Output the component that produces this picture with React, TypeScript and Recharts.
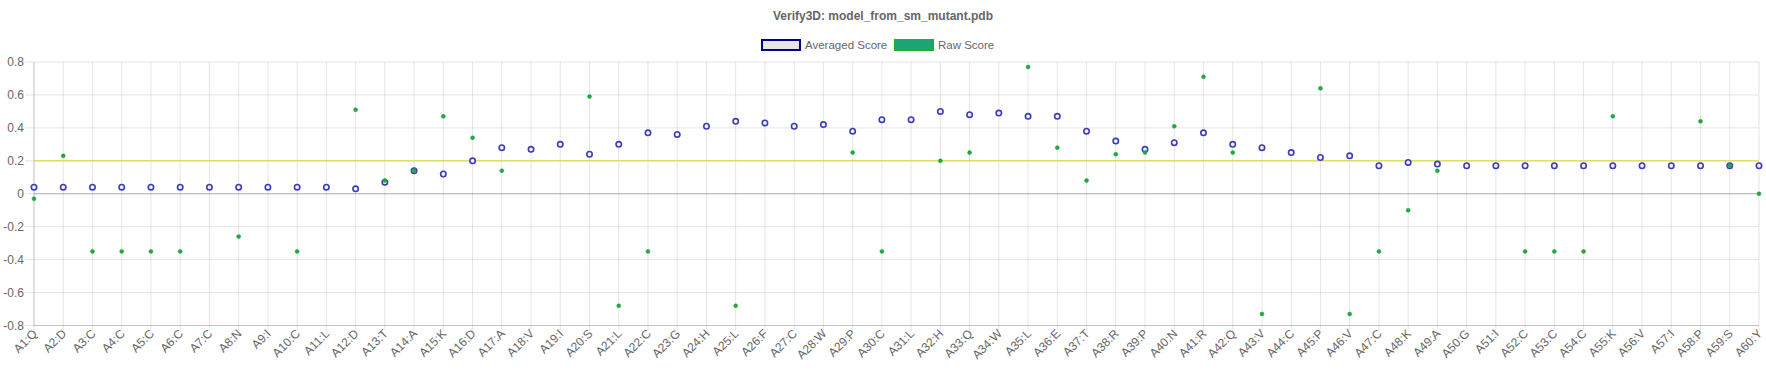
import React from 'react';
import { LineChart, Line, XAxis, YAxis, CartesianGrid, ReferenceLine } from 'recharts';

const categories = [
  'A1:Q', 'A2:D', 'A3:C', 'A4:C', 'A5:C', 'A6:C', 'A7:C', 'A8:N', 'A9:I', 'A10:C',
  'A11:L', 'A12:D', 'A13:T', 'A14:A', 'A15:K', 'A16:D', 'A17:A', 'A18:V', 'A19:I', 'A20:S',
  'A21:L', 'A22:C', 'A23:G', 'A24:H', 'A25:L', 'A26:F', 'A27:C', 'A28:W', 'A29:P', 'A30:C',
  'A31:L', 'A32:H', 'A33:Q', 'A34:W', 'A35:L', 'A36:E', 'A37:T', 'A38:R', 'A39:P', 'A40:N',
  'A41:R', 'A42:Q', 'A43:V', 'A44:C', 'A45:P', 'A46:V', 'A47:C', 'A48:K', 'A49:A', 'A50:G',
  'A51:I', 'A52:C', 'A53:C', 'A54:C', 'A55:K', 'A56:V', 'A57:I', 'A58:P', 'A59:S', 'A60:Y',
];

const averagedScores = [
  0.04, 0.04, 0.04, 0.04, 0.04, 0.04, 0.04, 0.04, 0.04, 0.04,
  0.04, 0.03, 0.07, 0.14, 0.12, 0.20, 0.28, 0.27, 0.30, 0.24,
  0.30, 0.37, 0.36, 0.41, 0.44, 0.43, 0.41, 0.42, 0.38, 0.45,
  0.45, 0.50, 0.48, 0.49, 0.47, 0.47, 0.38, 0.32, 0.27, 0.31,
  0.37, 0.30, 0.28, 0.25, 0.22, 0.23, 0.17, 0.19, 0.18, 0.17,
  0.17, 0.17, 0.17, 0.17, 0.17, 0.17, 0.17, 0.17, 0.17, 0.17,
];

const rawScores: (number | null)[] = [
  -0.03, 0.23, -0.35, -0.35, -0.35, -0.35, null, -0.26, null, -0.35,
  null, 0.51, 0.08, 0.14, 0.47, 0.34, 0.14, null, null, 0.59,
  -0.68, -0.35, null, null, -0.68, null, null, null, 0.25, -0.35,
  null, 0.20, 0.25, null, 0.77, 0.28, 0.08, 0.24, 0.25, 0.41,
  0.71, 0.25, -0.73, null, 0.64, -0.73, -0.35, -0.10, 0.14, null,
  null, -0.35, -0.35, -0.35, 0.47, null, null, 0.44, 0.17, 0.0,
];

const yTicks = [-0.8, -0.6, -0.4, -0.2, 0, 0.2, 0.4, 0.6, 0.8];
const thresholdValue = 0.2;

const titleText = 'Verify3D: model_from_sm_mutant.pdb';
const legendLabels = ['Averaged Score', 'Raw Score'];

const data = categories.map((label, i) => ({
  label,
  averaged: averagedScores[i],
  raw: rawScores[i],
}));

const FONT = '"Liberation Sans", Arial, Helvetica, sans-serif';

const XTick = (props: any) => {
  const { x, y, payload } = props;
  const tx = x + 1;
  const ty = y;
  return (
    <text
      x={tx}
      y={ty}
      transform={`rotate(-45, ${tx}, ${ty})`}
      textAnchor="end"
      dominantBaseline="central"
      fontSize={12}
      fontFamily={FONT}
      fill="#666"
    >
      {payload.value}
    </text>
  );
};

export default function App() {
  return (
    <div
      style={{
        position: 'absolute',
        left: 0,
        top: 0,
        width: 1766,
        height: 375,
        background: '#fff',
        fontFamily: FONT,
      }}
    >
      <div
        style={{
          position: 'absolute',
          left: 0,
          top: 9,
          width: 1766,
          textAlign: 'center',
          fontSize: 12,
          fontWeight: 'bold',
          color: '#666',
          lineHeight: '14px',
        }}
      >
        {titleText}
      </div>
      <div
        style={{
          position: 'absolute',
          left: 761,
          top: 39,
          width: 40,
          height: 12,
          boxSizing: 'border-box',
          border: '2px solid #00008b',
          background: '#e6e6e6',
        }}
      />
      <div style={{ position: 'absolute', left: 805, top: 38, fontSize: 11.5, lineHeight: '14px', color: '#666' }}>
        {legendLabels[0]}
      </div>
      <div
        style={{
          position: 'absolute',
          left: 894,
          top: 39,
          width: 40,
          height: 12,
          boxSizing: 'border-box',
          border: '1.5px solid #22b022',
          background: '#1ea672',
        }}
      />
      <div style={{ position: 'absolute', left: 938, top: 38, fontSize: 11.5, lineHeight: '14px', color: '#666' }}>
        {legendLabels[1]}
      </div>
      <LineChart width={1766} height={375} data={data} margin={{ top: 62, right: 7, left: 0, bottom: 0 }}>
        <CartesianGrid stroke="rgba(0,0,0,0.1)" />
        <XAxis
          dataKey="label"
          interval={0}
          height={49.5}
          tick={<XTick />}
          tickSize={5}
          tickMargin={1}
          tickLine={{ stroke: 'rgba(0,0,0,0.1)' }}
          axisLine={{ stroke: 'rgba(0,0,0,0.15)' }}
        />
        <YAxis
          width={34}
          domain={[-0.8, 0.8]}
          ticks={yTicks}
          interval={0}
          tickSize={9}
          tickMargin={1}
          tickFormatter={(v: number) => String(Number(v.toFixed(1)))}
          tick={{ fontSize: 12, fill: '#666', fontFamily: FONT }}
          tickLine={{ stroke: 'rgba(0,0,0,0.1)' }}
          axisLine={{ stroke: 'rgba(0,0,0,0.15)' }}
        />
        <ReferenceLine y={0} stroke="rgba(0,0,0,0.25)" strokeWidth={1} />
        <ReferenceLine y={thresholdValue} stroke="#dede70" strokeWidth={1.5} />
        <Line
          dataKey="averaged"
          stroke="none"
          isAnimationActive={false}
          activeDot={false}
          dot={{ r: 2.7, stroke: '#3c3cb8', strokeWidth: 1.6, fill: '#f2f2f8' }}
        />
        <Line
          dataKey="raw"
          stroke="none"
          isAnimationActive={false}
          activeDot={false}
          dot={{ r: 2, stroke: '#1fa83c', strokeWidth: 0.5, fill: '#1fa83c' }}
        />
      </LineChart>
    </div>
  );
}
